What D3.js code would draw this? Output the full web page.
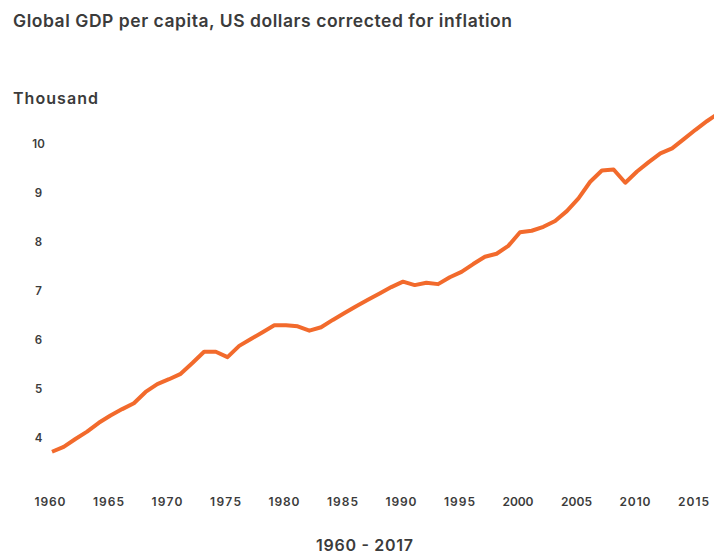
<!DOCTYPE html>
<html>
<head>
<meta charset="utf-8">
<script src="https://cdn.jsdelivr.net/npm/d3@7"></script>
<style>
  body { margin: 0; background: #fff; }
  svg { display: block; font-family: Inter, "Open Sans", sans-serif; }
</style>
</head>
<body>
<svg id="chart"></svg>
<script>
// years 1960..2017
const years = d3.range(1960, 2018);
// global GDP per capita, thousand US dollars
const gdp = [
  3.72, 3.82, 3.98, 4.13, 4.31, 4.46, 4.59, 4.71, 4.94, 5.10,
  5.20, 5.31, 5.53, 5.76, 5.76, 5.65, 5.88, 6.02, 6.16, 6.30,
  6.30, 6.28, 6.19, 6.26, 6.41, 6.55, 6.69, 6.82, 6.95, 7.08,
  7.19, 7.12, 7.17, 7.14, 7.28, 7.39, 7.55, 7.70, 7.76, 7.92,
  8.20, 8.23, 8.31, 8.43, 8.63, 8.89, 9.23, 9.46, 9.48, 9.21,
  9.44, 9.63, 9.81, 9.91, 10.10, 10.29, 10.47, 10.63
];
const yTicks = [4, 5, 6, 7, 8, 9, 10];
const xTicks = [1960, 1965, 1970, 1975, 1980, 1985, 1990, 1995, 2000, 2005, 2010, 2015];

const title = "Global GDP per capita, US dollars corrected for inflation";
const unitLabel = "Thousand";
const rangeLabel = "1960 - 2017";

const width = 714, height = 556;
const textColor = "#3b3b3b";

const svg = d3.select("#chart")
  .attr("width", width)
  .attr("height", height);

const x = d3.scaleLinear()
  .domain([1960, 2015])
  .range([52, 695.5]);

const y = d3.scaleLinear()
  .domain([4, 10])
  .range([438, 144]);

// title and unit (the source font runs wider than Inter, so stretch spacing)
svg.append("text")
  .attr("x", 13)
  .attr("y", 27)
  .attr("fill", textColor)
  .attr("textLength", 499)
  .attr("lengthAdjust", "spacing")
  .style("font-size", "17.5px")
  .style("font-weight", 600)
  .text(title);

svg.append("text")
  .attr("x", 13)
  .attr("y", 104)
  .attr("fill", textColor)
  .attr("textLength", 85)
  .attr("lengthAdjust", "spacing")
  .style("font-size", "16px")
  .style("font-weight", 600)
  .text(unitLabel);

// y axis labels, no line
svg.append("g")
  .selectAll("text")
  .data(yTicks)
  .enter().append("text")
  .attr("x", 38.5)
  .attr("y", d => y(d))
  .attr("dy", "0.35em")
  .attr("text-anchor", "middle")
  .attr("fill", textColor)
  .style("font-size", "11.5px")
  .style("font-weight", 600)
  .text(d => d);

// x axis labels
svg.append("g")
  .selectAll("text")
  .data(xTicks)
  .enter().append("text")
  .attr("x", d => x(d) - 2)
  .attr("y", 506)
  .attr("text-anchor", "middle")
  .attr("fill", textColor)
  .attr("textLength", 31)
  .attr("lengthAdjust", "spacing")
  .style("font-size", "12px")
  .style("font-weight", 600)
  .text(d => d);

svg.append("text")
  .attr("x", 364.5)
  .attr("y", 551)
  .attr("text-anchor", "middle")
  .attr("fill", textColor)
  .attr("textLength", 97)
  .attr("lengthAdjust", "spacing")
  .style("font-size", "16px")
  .style("font-weight", 600)
  .text(rangeLabel);

// the line
const line = d3.line()
  .x((d, i) => x(years[i]))
  .y(d => y(d));

svg.append("path")
  .datum(gdp)
  .attr("d", line)
  .attr("fill", "none")
  .attr("stroke", "#f26a2c")
  .attr("stroke-width", 4)
  .attr("stroke-linejoin", "round");
</script>
</body>
</html>
